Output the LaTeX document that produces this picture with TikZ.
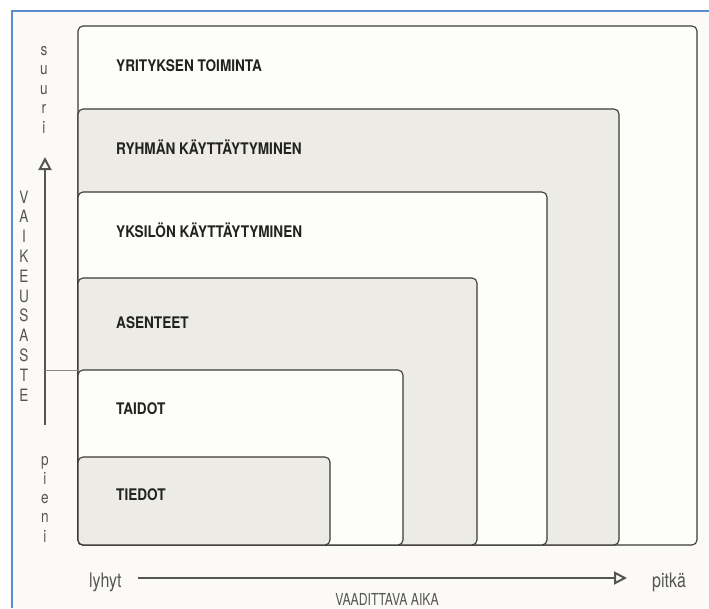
\documentclass[tikz,border=0pt]{standalone}
\usepackage{fontspec}
\setmainfont{TeX Gyre Heros}
\newfontfamily\boxfont[FakeStretch=0.85]{TeX Gyre Heros}
\newfontfamily\axfont[FakeStretch=0.8]{TeX Gyre Heros}
\newfontfamily\titlefont[FakeStretch=0.74]{TeX Gyre Heros}
\usetikzlibrary{arrows.meta}
\definecolor{paper}{HTML}{FBFAF6}
\definecolor{boxwhite}{HTML}{FDFDFA}
\definecolor{boxgrey}{HTML}{ECEBE6}
\definecolor{edge}{HTML}{3A3A3A}
\definecolor{axisgrey}{HTML}{555555}
\definecolor{framblue}{HTML}{5B8BD0}
\definecolor{labeltext}{HTML}{222222}
\tikzset{
  layer/.style={draw=edge, line width=1.1pt, rounded corners=5pt, rectangle,
    inner sep=0pt, outer sep=0pt, anchor=south west},
  whitebox/.style={layer, fill=boxwhite},
  greybox/.style={layer, fill=boxgrey},
  lbl/.style={anchor=base west, inner sep=0pt, text=labeltext,
    font=\boxfont\bfseries\fontsize{16}{18}\selectfont},
  axletter/.style={anchor=base, inner sep=0pt, text=axisgrey,
    font=\axfont\fontsize{17}{19}\selectfont},
  axword/.style={anchor=base, inner sep=0pt, text=axisgrey,
    font=\axfont\fontsize{20}{22}\selectfont},
  axtitle/.style={anchor=base, inner sep=0pt, text=axisgrey,
    font=\titlefont\fontsize{16.5}{18}\selectfont},
  axisline/.style={draw=axisgrey, line width=1.2pt,
    -{Triangle[open, length=13pt, width=13pt, line width=2pt]}},
  tickline/.style={draw=axisgrey!70, line width=0.8pt},
}
\begin{document}
\begin{tikzpicture}[x=1pt,y=-1pt]
\useasboundingbox (0,0) rectangle (709,608);
\fill[white] (0,0) rectangle (709,608);
\fill[paper] (12,11) rectangle (709,608);
\draw[framblue, line width=2pt] (12,608) -- (12,11) -- (709,11);

% nested layers
\node[whitebox, minimum width=619pt, minimum height=519pt] (yritys) at (78,545) {};
\node[greybox,  minimum width=541pt, minimum height=436pt] (ryhma) at (78,545) {};
\node[whitebox, minimum width=469pt, minimum height=353pt] (yksilo) at (78,545) {};
\node[greybox,  minimum width=399pt, minimum height=267pt] (asenteet) at (78,545) {};
\node[whitebox, minimum width=325pt, minimum height=175pt] (taidot) at (78,545) {};
\node[greybox,  minimum width=252pt, minimum height=88pt] (tiedot) at (78,545) {};

% labels
\node[lbl] (l1) at (116,71)  {YRITYKSEN TOIMINTA};
\node[lbl] (l2) at (116,154) {RYHMÄN KÄYTTÄYTYMINEN};
\node[lbl] (l3) at (116,237) {YKSILÖN KÄYTTÄYTYMINEN};
\node[lbl] (l4) at (116,328) {ASENTEET};
\node[lbl] (l5) at (116,414) {TAIDOT};
\node[lbl] (l6) at (116,500) {TIEDOT};

% vertical axis
\coordinate (vtop) at (45,157);
\coordinate (vbot) at (45,425);
\draw[axisline] (vbot) -- (vtop);
\coordinate (tickstart) at (45,370);
\draw[tickline] (tickstart) -- (taidot.north west);

\foreach \ch [count=\i from 0] in {s,u,u,r,i}
  \node[axletter] (su\i) at (44,55+19.5*\i) {\ch};
\foreach \ch [count=\i from 0] in {V,A,I,K,E,U,S,A,S,T,E}
  \node[axletter] (va\i) at (24,203+19.8*\i) {\ch};
\foreach \ch [count=\i from 0] in {p,i,e,n,i}
  \node[axletter] (pi\i) at (45,465+19.3*\i) {\ch};

% horizontal axis
\node[axword, anchor=base west] (lyhyt) at (89,587) {lyhyt};
\node[axword, anchor=base west] (pitka) at (652,587) {pitkä};
\coordinate (hstart) at (138,578);
\coordinate (hend) at (627,578);
\draw[axisline] (hstart) -- (hend);
\node[axtitle] (aika) at (387,605) {VAADITTAVA AIKA};
\end{tikzpicture}
\end{document}
